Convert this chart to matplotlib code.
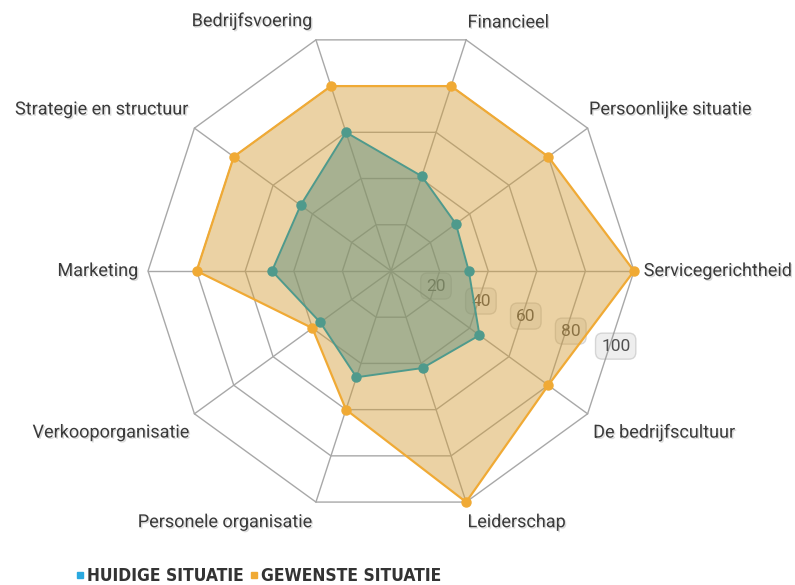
import matplotlib
matplotlib.use("Agg")
import matplotlib.pyplot as plt
import matplotlib.patheffects as pe
import numpy as np
from matplotlib.lines import Line2D

categories = [
    "Financieel",
    "Persoonlijke situatie",
    "Servicegerichtheid",
    "De bedrijfscultuur",
    "Leiderschap",
    "Personele organisatie",
    "Verkooporganisatie",
    "Marketing",
    "Strategie en structuur",
    "Bedrijfsvoering",
]
huidige = [41, 33, 32, 45, 42, 46, 36, 49, 46, 60]
gewenste = [80, 80, 100, 80, 100, 60, 40, 80, 80, 80]
ring_values = [20, 40, 60, 80, 100]
series_names = ["HUIDIGE SITUATIE", "GEWENSTE SITUATIE"]

# label placement per category: (dx, dy in points, ha, va)
label_pos = [
    (1, 6, "left", "bottom"),
    (1, 7, "left", "bottom"),
    (7, 0, "left", "center"),
    (4, -7, "left", "top"),
    (1, -8, "left", "top"),
    (-3, -8, "right", "top"),
    (-4, -7, "right", "top"),
    (-7, 0, "right", "center"),
    (-4, 7, "right", "bottom"),
    (-3, 7, "right", "bottom"),
]

ORANGE = "#F0AA35"
ORANGE_FILL = "#D39D37"
TEAL = "#4F9A8C"
TEAL_FILL = "#65917F"
BLUE = "#2AA9E0"
GRID = "#A8A8A8"

fig = plt.figure(figsize=(7.95, 5.85), dpi=100)
ax = fig.add_axes([0.1862, 0.1214, 0.6113, 0.8308], projection="polar")
ax.set_theta_zero_location("N")
ax.set_theta_direction(-1)
ax.set_ylim(0, 100)
ax.grid(False)
ax.set_xticks([])
ax.set_yticks([])
ax.spines["polar"].set_visible(False)
ax.patch.set_alpha(0)

angles = np.deg2rad(18 + 36 * np.arange(len(categories)))
closed = np.append(angles, angles[0])

for r in ring_values:
    ax.plot(closed, [r] * len(closed), color=GRID, lw=1, zorder=1, clip_on=False)
for a in angles:
    ax.plot([a, a], [0, 100], color=GRID, lw=1, zorder=1, clip_on=False)

shadow = [pe.withSimplePatchShadow(offset=(1, -1), shadow_rgbFace="#999999", alpha=0.35)]

for r in ring_values:
    ax.text(np.deg2rad(108.5), r * 0.975, str(r), ha="center", va="center",
            fontsize=12.5, family="Roboto", color="#505050", zorder=1.5,
            bbox=dict(boxstyle="round,pad=0.32,rounding_size=0.4",
                      fc=(0.55, 0.55, 0.55, 0.14), ec=(0.6, 0.6, 0.6, 0.35), lw=1))

for a, name, (dx, dy, ha, va) in zip(angles, categories, label_pos):
    ax.annotate(name, xy=(a, 100), xytext=(dx, dy), textcoords="offset points",
                ha=ha, va=va, fontsize=13, family="Roboto", color="#3A3A3A",
                path_effects=shadow, annotation_clip=False)

g_closed = np.append(gewenste, gewenste[0])
h_closed = np.append(huidige, huidige[0])

ax.fill(closed, g_closed, color=ORANGE_FILL, alpha=0.45, lw=0, zorder=2, clip_on=False)
ax.plot(closed, g_closed, color=ORANGE, lw=1.6, zorder=3, clip_on=False)
ax.plot(angles, gewenste, "o", color=ORANGE, ms=6.5, zorder=5, clip_on=False)

ax.fill(closed, h_closed, color=TEAL_FILL, alpha=0.5, lw=0, zorder=3.5, clip_on=False)
ax.plot(closed, h_closed, color=TEAL, lw=1.4, zorder=4, clip_on=False)
ax.plot(angles, huidige, "o", color=TEAL, ms=6.5, zorder=5, clip_on=False)

handles = [
    Line2D([], [], marker="s", ls="none", color=BLUE, ms=4),
    Line2D([], [], marker="s", ls="none", color=ORANGE, ms=4),
]
fig.legend(handles, series_names, loc="center left",
           bbox_to_anchor=(61 / 795, 1 - 576 / 585), ncol=2, frameon=False,
           handlelength=0.4, handletextpad=0.2, columnspacing=0.4,
           prop=dict(family="DejaVu Sans", weight="bold", size=12.5,
                     stretch="condensed"),
           labelcolor="#333333")

fig.savefig("out.png", dpi=100)
